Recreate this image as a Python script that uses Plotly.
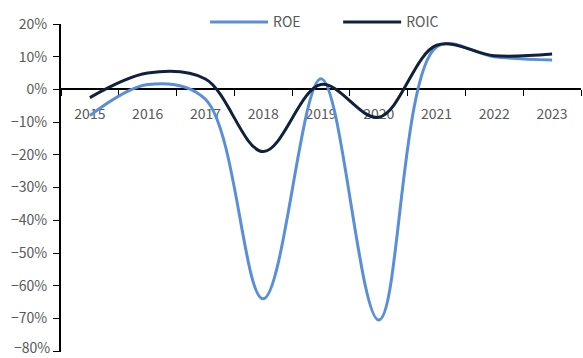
import plotly.graph_objects as go

years = ["2015", "2016", "2017", "2018", "2019", "2020", "2021", "2022", "2023"]
roe = [-8.0, 1.5, -3.0, -64.0, 3.3, -70.5, 13.0, 10.0, 9.0]
roic = [-2.5, 5.0, 3.2, -19.0, 1.5, -8.5, 13.5, 10.3, 10.8]
y_ticks = list(range(-80, 21, 10))
y_labels = [f"{v}%".replace("-", "\u2212") for v in y_ticks]

font = "Noto Sans CJK SC"
fig = go.Figure()
fig.add_trace(go.Scatter(x=years, y=roe, name="ROE", mode="lines", legend="legend",
                         line=dict(color="#5a8fd8", width=3, shape="spline", smoothing=1.0)))
fig.add_trace(go.Scatter(x=years, y=roic, name="ROIC", mode="lines", legend="legend2",
                         line=dict(color="#10223b", width=3, shape="spline", smoothing=1.0)))

leg_common = dict(orientation="h", xanchor="left", y=1.005, yanchor="middle",
                  font=dict(size=14, color="#595959"), itemwidth=58,
                  bgcolor="rgba(0,0,0,0)")
ymin, ymax = -80.25, 20
fig.update_layout(
    width=583, height=358,
    margin=dict(l=61, r=2, t=24, b=6, autoexpand=False),
    plot_bgcolor="white", paper_bgcolor="white",
    font=dict(family=font, size=13, color="#595959"),
    showlegend=True,
    legend=dict(x=0.277, **leg_common),
    legend2=dict(x=0.533, **leg_common),
    xaxis=dict(type="category", tickson="boundaries", ticks="outside", ticklen=6,
               range=[-0.5, 8.5], automargin=False,
               tickcolor="black", showline=True, linecolor="black", linewidth=1.5,
               anchor="free", position=(0 - ymin) / (ymax - ymin),
               showgrid=False, layer="below traces",
               ticklabelstandoff=12,
               tickfont=dict(size=14, color="#595959")),
    yaxis=dict(range=[ymin, ymax], tickvals=y_ticks,
               ticktext=[t if v != -80 else "" for v, t in zip(y_ticks, y_labels)],
               ticks="outside", ticklen=6, automargin=False, ticklabelstandoff=3,
               tickcolor="black", showline=True, linecolor="black", linewidth=2,
               showgrid=False, zeroline=False, tickfont=dict(size=14, color="#595959")),
)
fig.add_annotation(text=y_labels[0], x=0, xref="paper", y=y_ticks[0], yref="y",
                   xanchor="right", yanchor="middle", xshift=-9, yshift=4, showarrow=False,
                   font=dict(size=14, color="#595959"))
fig.write_html("out.html")
